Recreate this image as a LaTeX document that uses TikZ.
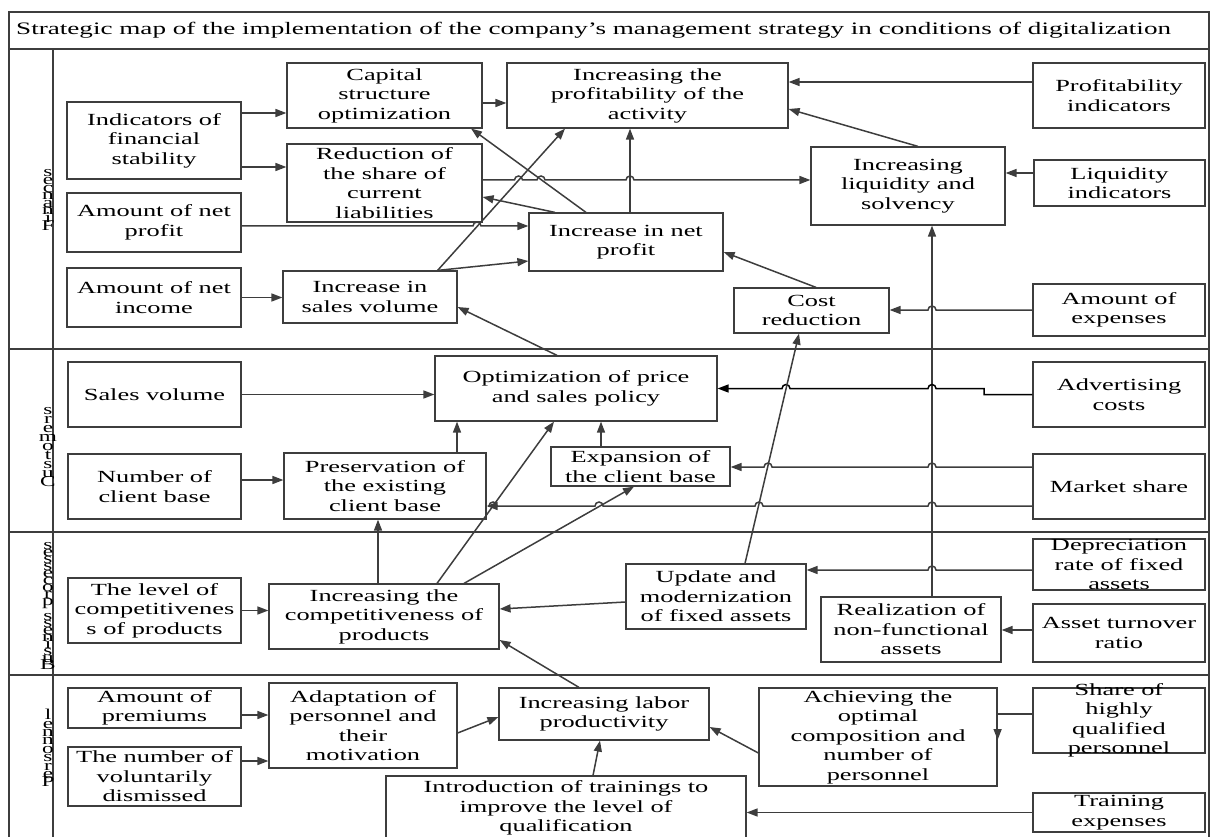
\documentclass[tikz,border=0pt]{standalone}
\usepackage{fontspec}
\setmainfont[FakeStretch=1.55]{Liberation Serif}
\usetikzlibrary{arrows.meta,calc}
\colorlet{line gray}{black!76}

% little bumps where a horizontal connector passes over another line
\newcommand{\hopl}[2]{-- (#1+4,#2) arc[start angle=0,end angle=180,radius=4pt]}
\newcommand{\hopr}[2]{-- (#1-4,#2) arc[start angle=180,end angle=0,radius=4pt]}
\newcommand{\boxfont}{\fontsize{17}{19.5}\selectfont\lineskiplimit-100pt\relax}
\newcommand{\sidefont}[1]{\fontsize{15}{#1}\selectfont\lineskiplimit-100pt\relax}

\begin{document}
\begin{tikzpicture}[x=1pt,y=-1pt,
  frame/.style={draw=line gray,line width=1.2pt},
  box/.style={draw=line gray,line width=1.2pt,inner sep=0,rectangle},
  txt/.style={align=center,inner sep=0,font=\boxfont},
  side/.style={align=center,inner sep=0,font=\sidefont{#1}},
  arr/.style={draw=line gray,line width=1.5pt,-{Triangle[length=11pt,width=8pt]}},
]
\useasboundingbox (0,0) rectangle (1210,837);

% frame and rows
\draw[frame] (9,12) rectangle (1209,845);
\draw[frame] (9,49) -- (1209,49);
\draw[frame] (53,49) -- (53,845);
\foreach \y in {349,532,675}
  \draw[frame] (9,\y) -- (1209,\y);
\node[txt,anchor=west,font=\fontsize{17.5}{19.5}\selectfont] (title) at (16,30) {Strategic map of the implementation of the company's management strategy in conditions of digitalization};

\node[side=7.6] (fin) at (48,200) {s\\e\\c\\n\\a\\n\\i\\F};
\node[side=9] (cust) at (48,447) {s\\r\\e\\m\\o\\t\\s\\u\\C};
\node[side=7.1] (bus) at (48,606) {s\\e\\s\\s\\e\\c\\o\\r\\p\\{}\\s\\s\\e\\n\\i\\s\\u\\B};
\node[side=8.4] (pers) at (48,748) {l\\e\\n\\n\\o\\s\\r\\e\\P};

% finances
\node[box,minimum width=174,minimum height=77,label={[txt]center:{Indicators of\\financial\\stability}}] (indfin) at (154,140.5) {};
\node[box,minimum width=195,minimum height=65,label={[txt]center:{Capital\\structure\\optimization}}] (capstr) at (384.5,95.5) {};
\node[box,minimum width=195,minimum height=78,label={[txt]center:{Reduction of\\the share of\\current\\liabilities}}] (redsh) at (384.5,183) {};
\node[box,minimum width=174,minimum height=59,label={[txt]center:{Amount of net\\profit}}] (amprof) at (154,222.5) {};
\node[box,minimum width=174,minimum height=59,label={[txt]center:{Amount of net\\income}}] (aminc) at (154,297.5) {};
\node[box,minimum width=174,minimum height=52,label={[txt]center:{Increase in\\sales volume}}] (salesinc) at (370,297) {};
\node[box,minimum width=281,minimum height=65,label={[txt]center:{Increasing the\\profitability of the\\activity}}] (profact) at (647.5,95.5) {};
\node[box,minimum width=172,minimum height=65,label={[txt]center:{Profitability\\indicators}}] (profind) at (1119,95.5) {};
\node[box,minimum width=194,minimum height=78,label={[txt]center:{Increasing\\liquidity and\\solvency}}] (liq) at (908,186) {};
\node[box,minimum width=171,minimum height=46,label={[txt]center:{Liquidity\\indicators}}] (liqind) at (1119.5,183) {};
\node[box,minimum width=194,minimum height=58,label={[txt]center:{Increase in net\\profit}}] (netinc) at (626,242) {};
\node[box,minimum width=155,minimum height=45,label={[txt]center:{Cost\\reduction}}] (cost) at (811.5,310.5) {};
\node[box,minimum width=172,minimum height=52,label={[txt]center:{Amount of\\expenses}}] (expen) at (1119,310) {};

% customers
\node[box,minimum width=173,minimum height=65,label={[txt]center:{Sales volume}}] (salesvol) at (154.5,394.5) {};
\node[box,minimum width=282,minimum height=65,label={[txt]center:{Optimization of price\\and sales policy}}] (optim) at (576,388.5) {};
\node[box,minimum width=172,minimum height=65,label={[txt]center:{Advertising\\costs}}] (advert) at (1119,394.5) {};
\node[box,minimum width=173,minimum height=65,label={[txt]center:{Number of\\client base}}] (numcl) at (154.5,486.5) {};
\node[box,minimum width=202,minimum height=66,label={[txt]center:{Preservation of\\the existing\\client base}}] (preserv) at (385,486) {};
\node[box,minimum width=179,minimum height=39,label={[txt]center:{Expansion of\\the client base}}] (expans) at (640.5,466.5) {};
\node[box,minimum width=172,minimum height=65,label={[txt]center:{Market share}}] (market) at (1119,486.5) {};

% business processes
\node[box,minimum width=173,minimum height=65,label={[txt]center:{The level of\\competitivenes\\s of products}}] (levcomp) at (154.5,610.5) {};
\node[box,minimum width=230,minimum height=65,label={[txt]center:{Increasing the\\competitiveness of\\products}}] (comp) at (384,616.5) {};
\node[box,minimum width=180,minimum height=65,label={[txt]center:{Update and\\modernization\\of fixed assets}}] (update) at (716,596.5) {};
\node[box,minimum width=172,minimum height=51,label={[txt]center:{Depreciation\\rate of fixed\\assets}}] (deprec) at (1119,564.5) {};
\node[box,minimum width=180,minimum height=65,label={[txt]center:{Realization of\\non-functional\\assets}}] (realiz) at (911,629.5) {};
\node[box,minimum width=172,minimum height=58,label={[txt]center:{Asset turnover\\ratio}}] (turnover) at (1119,633) {};

% personnel
\node[box,minimum width=173,minimum height=40,label={[txt]center:{Amount of\\premiums}}] (premium) at (154.5,708) {};
\node[box,minimum width=173,minimum height=59,label={[txt]center:{The number of\\voluntarily\\dismissed}}] (dismiss) at (154.5,776.5) {};
\node[box,minimum width=188,minimum height=85,label={[txt]center:{Adaptation of\\personnel and\\their\\motivation}}] (adapt) at (363,725.5) {};
\node[box,minimum width=210,minimum height=52,label={[txt]center:{Increasing labor\\productivity}}] (labor) at (604,714) {};
\node[box,minimum width=360,minimum height=64,label={[txt]center:{Introduction of trainings to\\improve the level of\\qualification}}] (intro) at (566,808) {};
\node[box,minimum width=238,minimum height=98,label={[txt]center:{Achieving the\\optimal\\composition and\\number of\\personnel}}] (achieve) at (878,737) {};
\node[box,minimum width=172,minimum height=65,label={[txt]center:{Share of\\highly\\qualified\\personnel}}] (share) at (1119,720.5) {};
\node[box,minimum width=172,minimum height=39,label={[txt]center:{Training\\expenses}}] (training) at (1119,812.5) {};

% connectors, finances
\draw[arr] ([yshift=27.5]indfin.east) -- ([yshift=27.5]indfin.east -| capstr.west);
\draw[arr] ([yshift=-26.5]indfin.east) -- ([yshift=-26.5]indfin.east -| redsh.west);
\draw[arr] ([yshift=-7.5]capstr.east) -- ([yshift=-7.5]capstr.east -| profact.west);
\draw[arr] ([yshift=-3.5]amprof.east) \hopr{477}{226} -- ([yshift=-3.5]amprof.east -| netinc.west);
\draw[arr] (aminc.east) -- (aminc.east -| salesinc.west);
\draw[arr] ([xshift=-20]salesinc.north east) -- ([xshift=-82.5]profact.south);
\draw[arr] ([xshift=-20]salesinc.north east) -- ([yshift=-19]netinc.west);
\draw[arr] ([xshift=4]netinc.north) -- ([xshift=4]netinc.north |- profact.south);
\draw[arr] ([xshift=-40]netinc.north) -- ([xshift=-11.5]capstr.south east);
\draw[arr] ([xshift=-71]netinc.north) -- ([yshift=-14]redsh.east);
\draw[arr] ([yshift=3]redsh.east) \hopr{518.5}{180} \hopr{541}{180} \hopr{630}{180} -- ([yshift=3]redsh.east -| liq.west);
\draw[arr] ([yshift=13.5]profind.west) -- ([yshift=13.5]profind.west -| profact.east);
\draw[arr] ([xshift=10]liq.north) -- ([yshift=-13.5]profact.east);
\draw[arr] ([yshift=10]liqind.west) -- ([yshift=10]liqind.west -| liq.east);
\draw[arr] ([xshift=4.5]cost.north) -- ([yshift=-10]netinc.east);
\draw[arr] (expen.west) \hopl{932}{310} -- (expen.west -| cost.east);
\draw[arr] ([xshift=21]realiz.north) -- ([xshift=21]realiz.north |- liq.south);

% connectors, customers
\draw[arr] (salesvol.east) -- (salesvol.east -| optim.west);
\draw[arr,draw=black] (advert.west) -- (984,394.5) -- (984,388.5) \hopl{932}{388.5} \hopl{786}{388.5} -- (optim.east);
\draw[arr] ([yshift=6.5]numcl.east) -- ([yshift=6.5]numcl.east -| preserv.west);
\draw[arr] ([xshift=72]preserv.north) -- ([xshift=72]preserv.north |- optim.south);
\draw[arr] ([xshift=-39.5]expans.north) -- ([xshift=-39.5]expans.north |- optim.south);
\draw[arr] ([yshift=19.5]market.west) \hopl{932}{467} \hopl{768}{467} -- ([yshift=19.5]market.west -| expans.east);
\draw[arr] ([yshift=-19.5]market.west) \hopl{932}{506} \hopl{759}{506} \hopl{599}{506} \hopl{493}{506} -- ([yshift=-19.5]market.west -| preserv.east);
\draw[arr] ([xshift=-19]optim.north) -- ([yshift=-10]salesinc.east);

% connectors, business processes
\draw[arr] ([xshift=-6]comp.north) -- ([xshift=-6]comp.north |- preserv.south);
\draw[arr] ([xshift=53]comp.north) -- ([xshift=-22]optim.south);
\draw[arr] ([xshift=80]comp.north) -- ([xshift=-6.5]expans.south);
\draw[arr] (levcomp.east) -- (levcomp.east -| comp.west);
\draw[arr] ([yshift=-5.5]update.west) -- ([yshift=7.5]comp.east);
\draw[arr] ([xshift=29]update.north) -- ([xshift=-12.5]cost.south);
\draw[arr] ([yshift=-5.5]deprec.west) \hopl{932}{570} -- ([yshift=-5.5]deprec.west -| update.east);
\draw[arr] ([yshift=3]turnover.west) -- ([yshift=3]turnover.west -| realiz.east);

% connectors, personnel
\draw[arr] ([yshift=-7]premium.east) -- ([yshift=-7]premium.east -| adapt.west);
\draw[arr] ([yshift=15.5]dismiss.east) -- ([yshift=15.5]dismiss.east -| adapt.west);
\draw[arr] ([yshift=-7.5]adapt.east) -- ([yshift=-3]labor.west);
\draw[arr] ([xshift=-25]labor.north) -- ([yshift=-23.5]comp.east);
\draw[arr] ([xshift=27]intro.north) -- ([xshift=-4]labor.south);
\draw[arr] ([yshift=-16]achieve.west) -- ([yshift=-13]labor.east);
\draw[arr] ([yshift=6.5]share.west) -- ([yshift=6.5]share.west -| achieve.east) -- ([yshift=-3]achieve.east);
\draw[arr] (training.west) -- (training.west -| intro.east);
\end{tikzpicture}
\end{document}
